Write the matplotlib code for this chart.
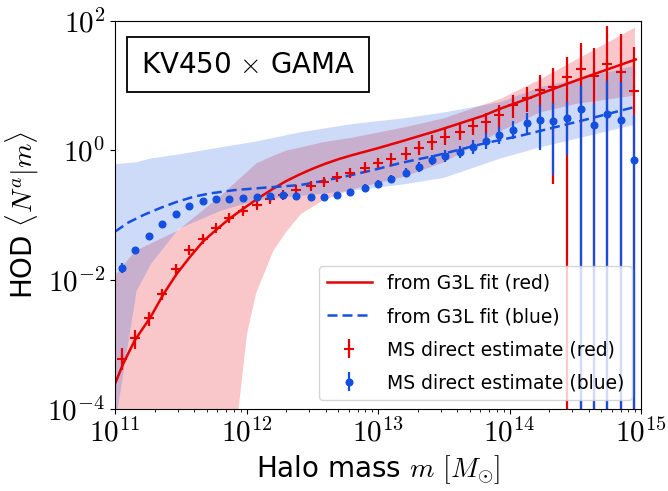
import numpy as np
from matplotlib import pyplot as plt
from matplotlib.ticker import LogLocator, NullLocator, FuncFormatter

plt.rcParams['font.family'] = ['DejaVu Sans']
plt.rcParams['mathtext.fontset'] = 'cm'

# direct estimates from the Millennium Simulation (log10 of halo mass / HOD)
logm_ms = [11.05, 11.15, 11.26, 11.36, 11.46, 11.56, 11.67, 11.77, 11.87, 11.97,
           12.08, 12.18, 12.28, 12.38, 12.49, 12.59, 12.69, 12.79, 12.90, 13.00,
           13.10, 13.21, 13.31, 13.41, 13.51, 13.62, 13.72, 13.82, 13.92, 14.03,
           14.13, 14.23, 14.33, 14.44, 14.54, 14.64, 14.74, 14.85, 14.95]

red_ms = [-3.22, -2.91, -2.60, -2.22, -1.83, -1.55, -1.37, -1.20, -1.05, -0.94,
          -0.85, -0.76, -0.70, -0.62, -0.56, -0.49, -0.42, -0.35, -0.27, -0.20,
          -0.14, -0.06, 0.03, 0.13, 0.20, 0.28, 0.37, 0.44, 0.54, 0.69,
          0.80, 0.93, 0.98, 1.13, 1.26, 1.15, 1.33, 1.20, 0.92]
red_lo = [-3.40, -3.08, -2.72, -2.31, -1.90, -1.60, -1.42, -1.25, -1.10, -0.99,
          -0.90, -0.81, -0.75, -0.68, -0.62, -0.55, -0.49, -0.42, -0.35, -0.28,
          -0.23, -0.16, -0.08, 0.00, 0.08, 0.15, 0.23, 0.26, 0.33, 0.50,
          0.59, 0.67, -0.53, -6, -6, -6, -6, -6, -6]
red_hi = [-3.05, -2.78, -2.50, -2.14, -1.76, -1.50, -1.32, -1.15, -1.00, -0.89,
          -0.80, -0.71, -0.65, -0.56, -0.50, -0.43, -0.35, -0.28, -0.19, -0.12,
          -0.05, 0.04, 0.14, 0.24, 0.32, 0.40, 0.47, 0.57, 0.70, 0.85,
          0.98, 1.16, 1.27, 1.44, 1.65, 1.57, 1.92, 1.80, 1.59]

blue_ms = [-1.82, -1.55, -1.33, -1.14, -0.98, -0.86, -0.79, -0.76, -0.75, -0.74,
           -0.72, -0.71, -0.70, -0.71, -0.73, -0.73, -0.69, -0.64, -0.58, -0.52,
           -0.44, -0.35, -0.26, -0.15, -0.09, -0.03, 0.05, 0.14, 0.23, 0.31,
           0.42, 0.47, 0.45, 0.50, 0.64, 0.39, 0.56, 0.47, -0.16]
blue_lo = [-1.90, -1.58, -1.36, -1.17, -1.01, -0.89, -0.82, -0.79, -0.78, -0.77,
           -0.75, -0.74, -0.73, -0.74, -0.77, -0.77, -0.73, -0.68, -0.63, -0.58,
           -0.50, -0.42, -0.34, -0.23, -0.18, -0.13, -0.06, 0.02, 0.10, 0.17,
           0.26, 0.00, -0.39, -0.08, -6, -6, -6, -6, -6]
blue_hi = [-1.75, -1.52, -1.30, -1.11, -0.95, -0.83, -0.76, -0.73, -0.72, -0.71,
           -0.69, -0.68, -0.67, -0.67, -0.69, -0.69, -0.65, -0.60, -0.53, -0.46,
           -0.38, -0.28, -0.18, -0.07, 0.00, 0.07, 0.16, 0.26, 0.36, 0.45,
           0.57, 0.69, 0.72, 0.74, 0.99, 0.72, 1.07, 1.05, 0.54]

# G3L best fit curves
logm_red_fit = [11.0, 11.06, 11.15, 11.27, 11.37, 11.47, 11.57, 11.67, 11.77, 11.87,
                12.0, 12.1, 12.2, 12.3, 12.4, 12.5, 12.6, 12.7, 12.8, 13.0,
                13.17, 13.45, 13.8, 13.93, 14.08, 14.3, 14.54, 14.75, 14.96]
red_fit = [-3.61, -3.31, -2.94, -2.58, -2.22, -1.91, -1.65, -1.41, -1.23, -1.06,
           -0.87, -0.73, -0.60, -0.48, -0.38, -0.29, -0.21, -0.14, -0.08, 0.03,
           0.13, 0.30, 0.53, 0.64, 0.75, 0.92, 1.10, 1.25, 1.40]

logm_blue_fit = [11.0, 11.1, 11.22, 11.35, 11.47, 11.6, 11.72, 11.9, 12.08, 12.41,
                 12.6, 12.79, 13.0, 13.17, 13.45, 13.8, 14.08, 14.54, 14.96]
blue_fit = [-1.26, -1.12, -1.00, -0.89, -0.80, -0.72, -0.67, -0.62, -0.59, -0.54,
            -0.47, -0.39, -0.29, -0.20, -0.08, 0.10, 0.22, 0.45, 0.67]

# uncertainty bands of the fits
logm_red_band = [11.0, 11.15, 11.47, 11.8, 11.88, 12.0, 12.07, 12.2, 12.3, 12.41,
                 12.58, 12.8, 13.2, 13.5, 13.93, 14.23, 14.5, 14.95]
red_band_lo = [-5.0, -5.0, -5.0, -5.0, -5.0, -2.83, -2.2, -1.55, -1.25, -0.98,
               -0.77, -0.60, -0.40, -0.18, 0.30, 0.59, 0.72, 0.85]
red_band_hi = [-1.92, -1.55, -1.24, -0.70, -0.55, -0.33, -0.20, -0.08, 0.00, 0.05,
               0.13, 0.20, 0.36, 0.50, 0.80, 1.10, 1.40, 1.90]

logm_blue_band = [11.0, 11.16, 11.27, 11.48, 11.8, 12.07, 12.4, 12.8, 13.2, 13.5,
                  13.93, 14.23, 14.5, 14.95]
blue_band_lo = [-4.2, -2.17, -1.75, -1.21, -0.93, -0.77, -0.70, -0.62, -0.52, -0.42,
                -0.12, 0.05, 0.18, 0.40]
blue_band_hi = [-0.21, -0.18, -0.12, -0.06, 0.05, 0.14, 0.28, 0.41, 0.50, 0.59,
                0.75, 0.98, 1.10, 1.31]

red = '#e60000'
blue = '#1450e0'

fig = plt.figure(figsize=(6.68, 4.91), dpi=100)
ax = fig.add_axes([0.1722, 0.167, 0.7874, 0.791])

p = lambda v: 10 ** np.asarray(v, dtype=float)

ax.fill_between(p(logm_red_band), p(red_band_lo), p(red_band_hi),
                color='#e8000b', alpha=0.22, lw=0)
ax.fill_between(p(logm_blue_band), p(blue_band_lo), p(blue_band_hi),
                color='#1f5be0', alpha=0.22, lw=0)

ax.plot(p(logm_red_fit), p(red_fit), color=red, lw=1.8, label='from G3L fit (red)')
ax.plot(p(logm_blue_fit), p(blue_fit), color=blue, lw=1.8, ls='--',
        dashes=(4, 2), label='from G3L fit (blue)')

x = p(logm_ms)
yr = p(red_ms)
yb = p(blue_ms)
ax.errorbar(x, yr, yerr=[yr - p(red_lo), p(red_hi) - yr], fmt='+', color=red,
            ms=7, mew=1.5, elinewidth=1.6, capsize=0,
            label='MS direct estimate (red)')
ax.errorbar(x, yb, yerr=[yb - p(blue_lo), p(blue_hi) - yb], fmt='o', color=blue,
            ms=4.8, elinewidth=1.6, capsize=0,
            label='MS direct estimate (blue)')

ax.set_xscale('log')
ax.set_yscale('log')
ax.set_xlim(1e11, 1e15)
ax.set_ylim(1e-4, 1e2)
ax.set_yticks([1e-4, 1e-2, 1e0, 1e2])
ax.yaxis.set_minor_locator(NullLocator())
ax.xaxis.set_major_locator(LogLocator(base=10, numticks=10))
pow_fmt = FuncFormatter(lambda v, pos: r'$10^{%d}$' % round(np.log10(v)))
ax.xaxis.set_major_formatter(pow_fmt)
ax.yaxis.set_major_formatter(pow_fmt)
ax.tick_params(axis='both', which='major', labelsize=21)

ax.set_xlabel(r'Halo mass $m$ $[M_{\odot}]$', fontsize=20)
ax.set_ylabel(r'HOD $\langle N^a|m\rangle$', fontsize=20)
ax.yaxis.set_label_coords(-0.14, 0.5)

ax.text(0.253, 0.887, r'KV450 $\times$ GAMA', transform=ax.transAxes,
        ha='center', va='center', fontsize=20,
        bbox=dict(boxstyle='square,pad=0.5', fc='white', ec='black', lw=1.3))

ax.legend(loc='lower right', fontsize=13.5, labelspacing=0.75, handlelength=2.4)

fig.savefig('out.png', dpi=100)
